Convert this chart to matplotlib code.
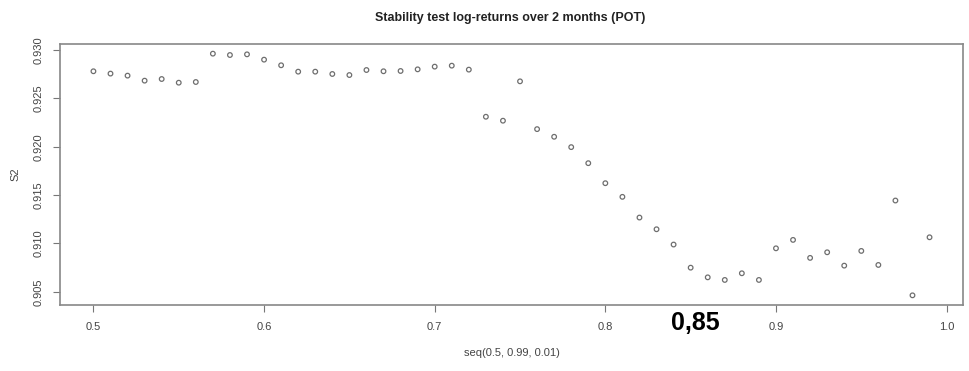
import numpy as np
import matplotlib.pyplot as plt

# threshold grid and the S2 statistic for each threshold
thresholds = np.round(np.arange(0.50, 0.995, 0.01), 2)
s2 = [0.92780, 0.92756, 0.92735, 0.92683, 0.92700, 0.92662, 0.92669,
      0.92962, 0.92948, 0.92955, 0.92900, 0.92842, 0.92776, 0.92776,
      0.92752, 0.92741, 0.92793, 0.92780, 0.92783, 0.92800, 0.92828,
      0.92838, 0.92797, 0.92310, 0.92269, 0.92676, 0.92182, 0.92103,
      0.91996, 0.91830, 0.91623, 0.91482, 0.91268, 0.91147, 0.90989,
      0.90750, 0.90650, 0.90623, 0.90692, 0.90623, 0.90950, 0.91037,
      0.90851, 0.90909, 0.90771, 0.90923, 0.90778, 0.91444, 0.90464,
      0.91064]
xticks = [0.5, 0.6, 0.7, 0.8, 0.9, 1.0]
xtick_labels = ["0.5", "0.6", "0.7", "0.8", "0.9", "1.0"]
yticks = [0.905, 0.910, 0.915, 0.920, 0.925, 0.930]
ytick_labels = ["0.905", "0.910", "0.915", "0.920", "0.925", "0.930"]

plt.rcParams['font.family'] = ['Liberation Sans Narrow', 'Liberation Sans', 'DejaVu Sans']

fig = plt.figure(figsize=(9.69, 3.71), dpi=100)
ax = fig.add_axes([0.0619, 0.1779, 0.9319, 0.7035])

ax.scatter(thresholds, s2, s=11, facecolors='none', edgecolors='#6e6e6e', linewidths=0.9)

# R style 4% padding on both axes
xr = thresholds.max() - thresholds.min()
yr = max(s2) - min(s2)
ax.set_xlim(thresholds.min() - 0.04 * xr, thresholds.max() + 0.04 * xr)
ax.set_ylim(min(s2) - 0.04 * yr, max(s2) + 0.04 * yr)

ax.set_xticks(xticks)
ax.set_xticklabels(xtick_labels, fontsize=8, color='#444444')
ax.set_yticks(yticks)
ax.set_yticklabels(ytick_labels, fontsize=8, color='#555555', rotation=90, va='center')
ax.tick_params(axis='both', colors='#777777', labelcolor='#444444', length=5, width=0.8, pad=7)

for sp in ax.spines.values():
    sp.set_color('#888888')
    sp.set_linewidth(1.2)

ax.set_xlabel("seq(0.5, 0.99, 0.01)", fontsize=8, color='#444444', labelpad=12)
ax.set_ylabel("S2", fontsize=8, color='#444444', labelpad=9)
fig.text(0.527, 0.952, "Stability test log-returns over 2 months (POT)",
         ha='center', va='center', fontsize=9, fontweight='bold',
         family=['Liberation Sans', 'DejaVu Sans'], color='#222222')

# chosen threshold
fig.text(0.718, 0.129, "0,85", ha='center', va='center', fontsize=18,
         fontweight='bold', family=['Liberation Sans', 'DejaVu Sans'], color='black')

fig.savefig("out.png", dpi=100)
